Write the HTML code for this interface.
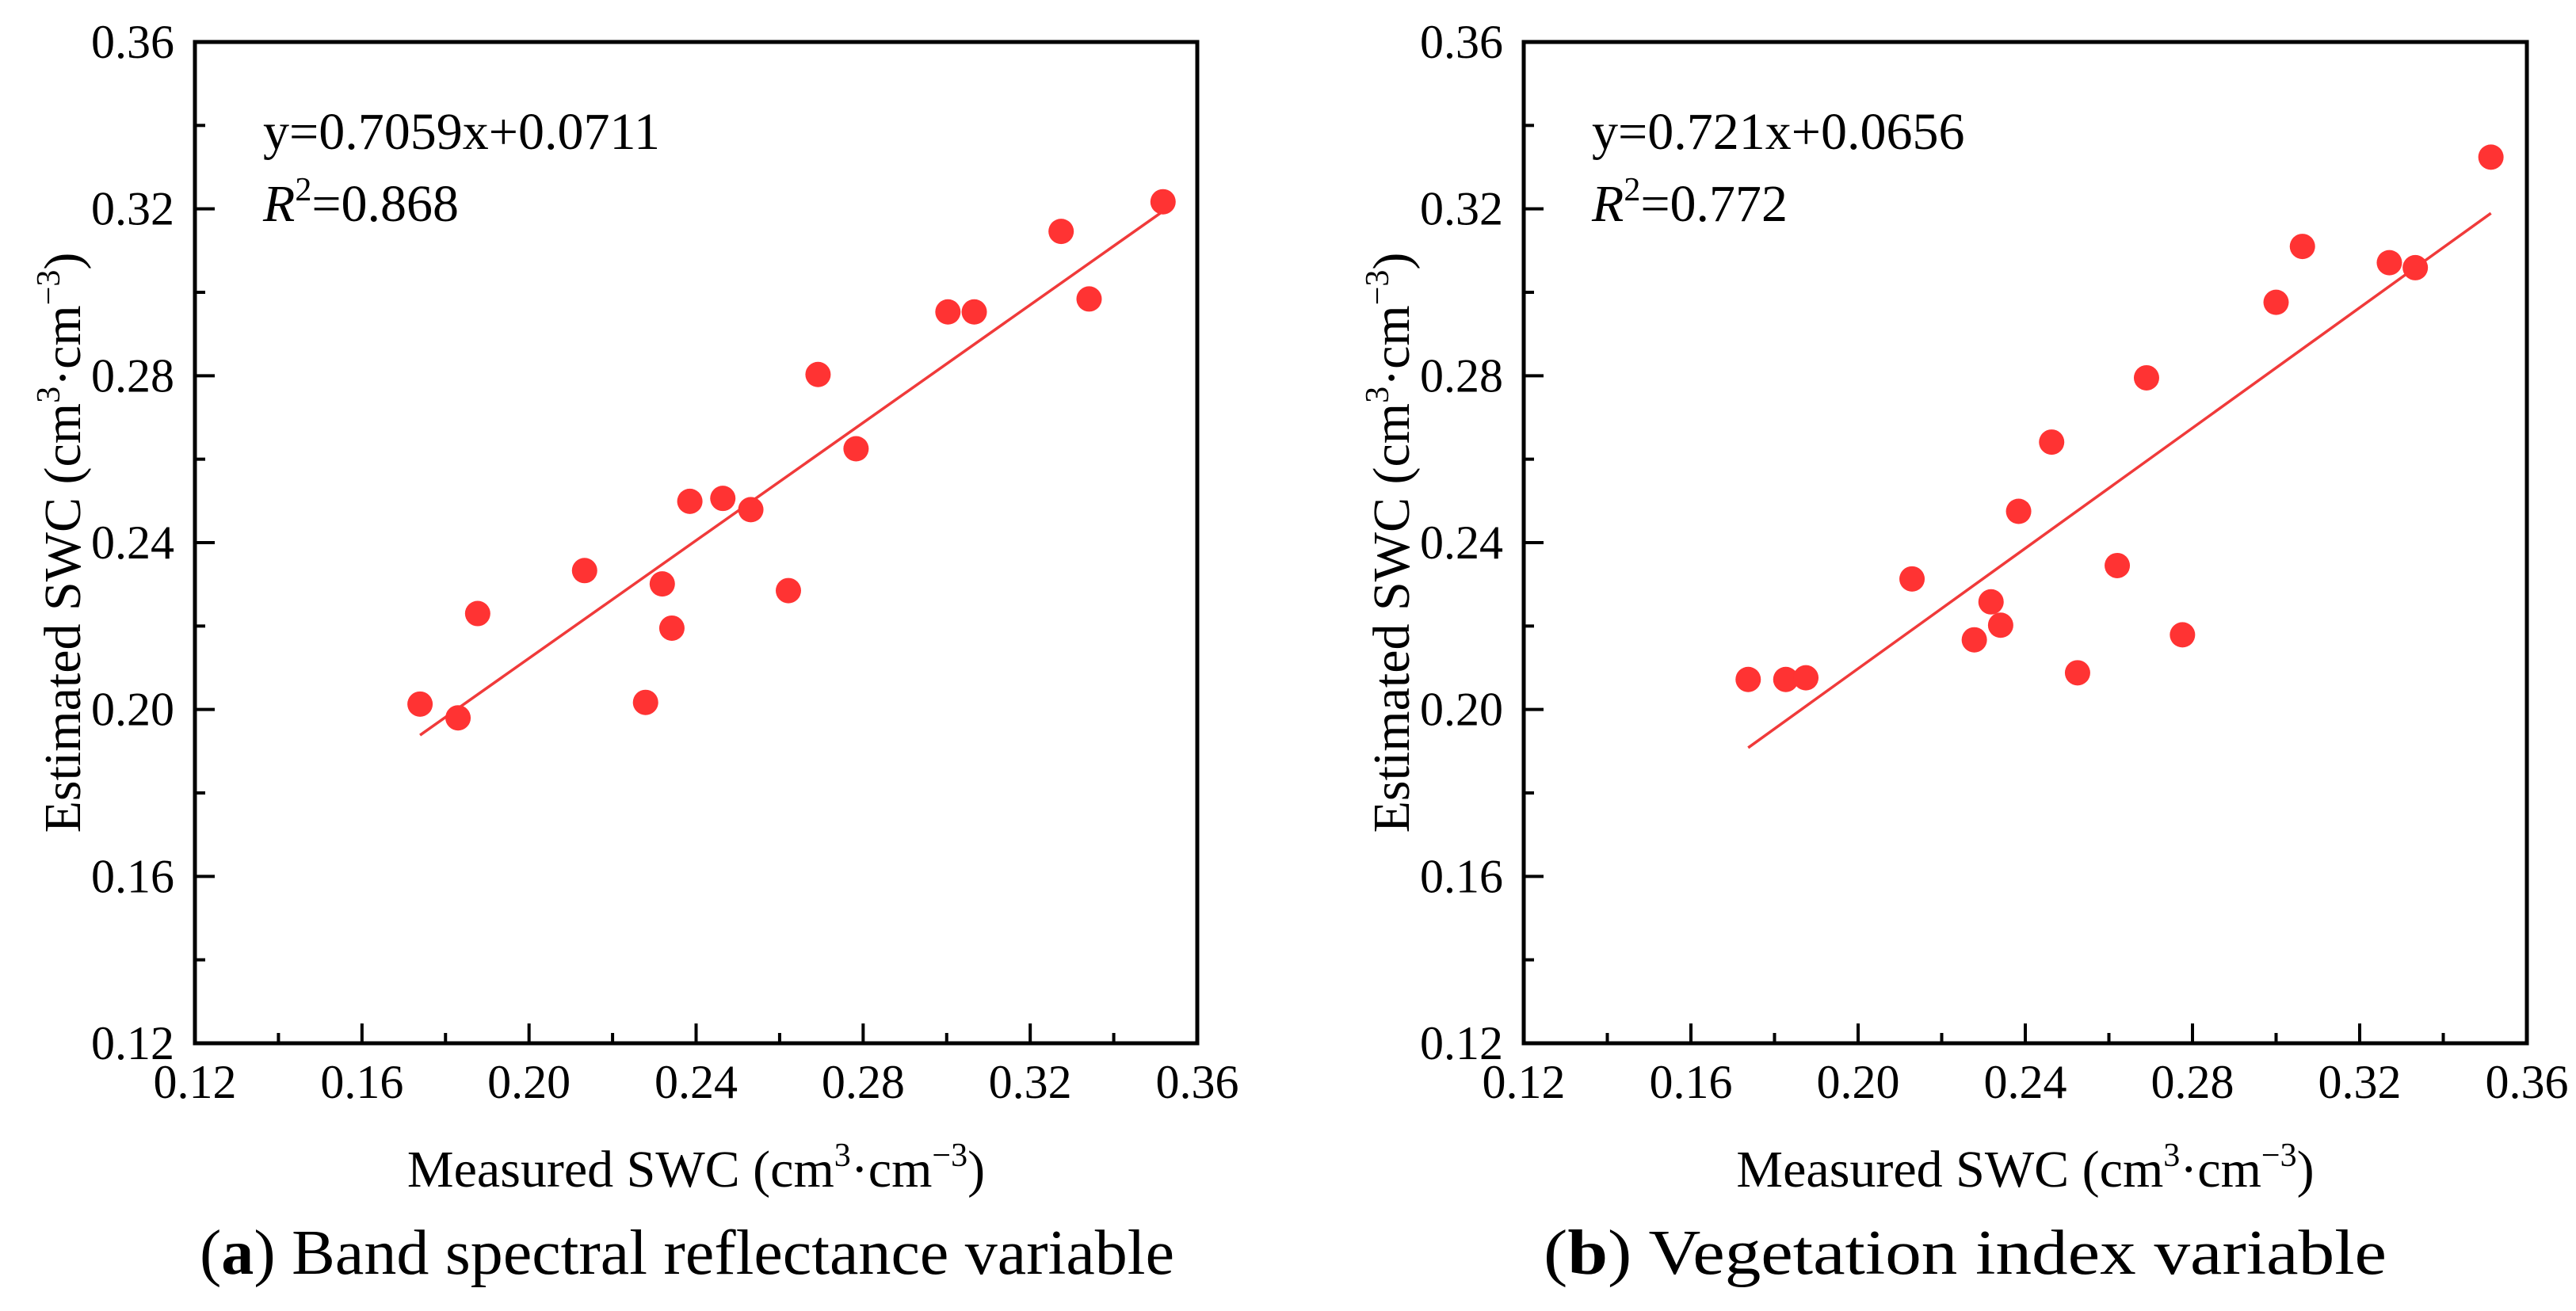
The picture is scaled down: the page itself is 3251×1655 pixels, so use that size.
<!DOCTYPE html>
<html><head><meta charset="utf-8"><style>
html,body{margin:0;padding:0;background:#fff;}
svg{display:block;font-family:"Liberation Serif",serif;}
</style></head><body>
<svg id="chart" width="3251" height="1655" viewBox="0 0 3251 1655" xmlns="http://www.w3.org/2000/svg"></svg>
<script>
const ticks = [0.12,0.16,0.20,0.24,0.28,0.32,0.36];
const tickLabels = ["0.12","0.16","0.20","0.24","0.28","0.32","0.36"];
const measuredA = [0.1739,0.1830,0.1877,0.2133,0.2279,0.2319,0.2342,0.2385,0.2464,0.2531,0.2621,0.2692,0.2783,0.3003,0.3066,0.3274,0.3341,0.3518];
const estimatedA = [0.2013,0.198,0.223,0.2333,0.2017,0.2301,0.2195,0.2499,0.2506,0.2479,0.2285,0.2803,0.2625,0.2953,0.2953,0.3146,0.2984,0.3217];
const measuredB = [0.1737,0.1827,0.1875,0.2129,0.2278,0.2318,0.2341,0.2384,0.2463,0.2525,0.2620,0.2690,0.2776,0.3000,0.3063,0.3271,0.3333,0.3514];
const estimatedB = [0.2072,0.2072,0.2076,0.2313,0.2167,0.2258,0.2202,0.2475,0.2641,0.2088,0.2345,0.2795,0.2179,0.2976,0.3110,0.3071,0.3059,0.3324];
const fitA = [0.7059,0.0711];
const fitB = [0.721,0.0656];
const NS="http://www.w3.org/2000/svg";
const svg=document.getElementById('chart');
function mk(tag,attrs,parent){const e=document.createElementNS(NS,tag);for(const k in attrs)e.setAttribute(k,attrs[k]);(parent||svg).appendChild(e);return e;}
function panel(id,L,R,T,B,xs,ys,fit,eq,r2,caption,capX1,capX2,capBold){
  const g=mk('g',{});
  
  
  const sx=v=>L+(v-0.12)/0.24*(R-L);
  const sy=v=>B-(v-0.12)/0.24*(B-T);
  const fr=mk('rect',{x:L,y:T,width:R-L,height:B-T,fill:'none',stroke:'#000','stroke-width':5},g);
  
  
  for(let i=0;i<ticks.length;i++){
    const v=ticks[i];
    mk('line',{x1:sx(v),x2:sx(v),y1:B,y2:B-25,stroke:'#000','stroke-width':4},g);
    mk('line',{x1:L,x2:L+25,y1:sy(v),y2:sy(v),stroke:'#000','stroke-width':4},g);
    if(i<ticks.length-1){const m=v+0.02;
      mk('line',{x1:sx(m),x2:sx(m),y1:B,y2:B-13,stroke:'#000','stroke-width':4},g);
      mk('line',{x1:L,x2:L+13,y1:sy(m),y2:sy(m),stroke:'#000','stroke-width':4},g);}
    const xt=mk('text',{x:sx(v),y:1386,'font-size':60,'text-anchor':'middle'},g);
    xt.textContent=tickLabels[i];
    
    
    const yt=mk('text',{x:L-26,y:sy(v)+20,'font-size':60,'text-anchor':'end'},g);
    yt.textContent=tickLabels[i];
    
    
  }
  const x0=Math.min(...xs),x1=Math.max(...xs);
  const ln=mk('line',{x1:sx(x0),y1:sy(fit[0]*x0+fit[1]),x2:sx(x1),y2:sy(fit[0]*x1+fit[1]),stroke:'#f03a3a','stroke-width':3.5},g);
  
  
  for(let i=0;i<xs.length;i++){
    const c=mk('circle',{cx:sx(xs[i]),cy:sy(ys[i]),r:16,fill:'#ff3333'},g);
    
    
  }
  const e=mk('text',{x:L+86,y:188,'font-size':66},g);
  e.textContent=eq;
  
  
  const r=mk('text',{x:L+86,y:279,'font-size':66},g);
  r.innerHTML='<tspan font-style="italic">R</tspan><tspan dy="-26" font-size="42">2</tspan><tspan dy="26">='+r2+'</tspan>';
  
  
  const xa=mk('text',{x:(L+R)/2,y:1498,'font-size':66,'text-anchor':'middle'},g);
  xa.innerHTML='Measured SWC (cm<tspan dy="-26" font-size="42">3</tspan><tspan dy="26">·cm</tspan><tspan dy="-26" font-size="42">−3</tspan><tspan dy="26">)</tspan>';
  
  
  const ya=mk('text',{x:0,y:0,'font-size':66,'text-anchor':'middle',transform:'translate('+(L-145)+','+((T+B)/2)+') rotate(-90)'},g);
  ya.innerHTML='Estimated SWC (cm<tspan dy="-26" font-size="42">3</tspan><tspan dy="26">·cm</tspan><tspan dy="-26" font-size="42">−3</tspan><tspan dy="26">)</tspan>';
  
  
  const cp=mk('text',{x:capX1,y:1608,'font-size':80,textLength:capX2-capX1,lengthAdjust:'spacingAndGlyphs'},g);
  cp.innerHTML='(<tspan font-weight="bold">'+capBold+'</tspan>) '+caption;
  
  
}
panel('a',246,1511,53,1317,measuredA,estimatedA,fitA,'y=0.7059x+0.0711','0.868','Band spectral reflectance variable',252,1482,'a');
panel('b',1923,3189,53,1317,measuredB,estimatedB,fitB,'y=0.721x+0.0656','0.772','Vegetation index variable',1948,3012,'b');
</script>
</body></html>
